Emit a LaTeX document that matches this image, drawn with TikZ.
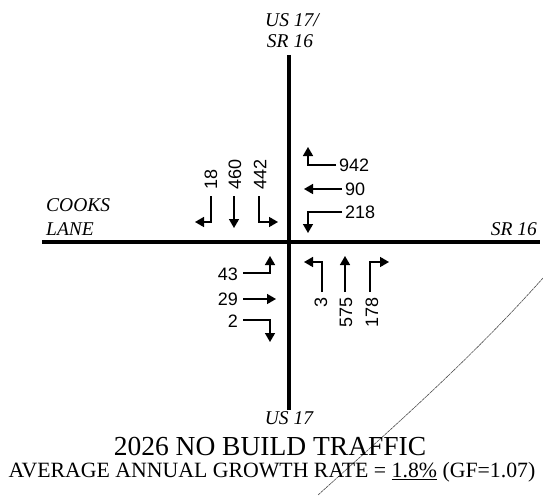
\documentclass[tikz,border=0pt]{standalone}
\usepackage{fontspec}
\setmainfont{Liberation Serif}
\newfontfamily\numfont{Liberation Sans}
\usetikzlibrary{arrows.meta}
\begin{document}
\begin{tikzpicture}[x=1pt,y=-1pt,
  road/.style={line width=3.4pt},
  mv/.style={line width=1.5pt,-{Triangle[width=10pt,length=9pt]}},
  num/.style={font=\numfont\fontsize{18}{20}\selectfont,inner sep=0pt},
  rlab/.style={font=\itshape\fontsize{19.5}{22}\selectfont,inner sep=0pt},
  artifact/.style={line width=0.6pt,draw=black!70,dash pattern=on 3pt off 0.6pt}]
\useasboundingbox (0,0) rectangle (543,495);
% roads
\coordinate (nN) at (289,55);
\coordinate (nS) at (289,410);
\coordinate (nW) at (42,242);
\coordinate (nE) at (540,242);
\draw[road] (nN) -- (nS);
\draw[road] (nW) -- (nE);
% road labels
\node[rlab] (usn1) at (292,20) {US 17/};
\node[rlab] (usn2) at (290,41) {SR 16};
\node[rlab,anchor=west] (cl1) at (46,205) {COOKS};
\node[rlab,anchor=west] (cl2) at (46,229) {LANE};
\node[rlab,anchor=east] (sre) at (537,229) {SR 16};
\node[rlab] (uss) at (289,418) {US 17};
% southbound
\node[num,rotate=90,anchor=west] (s18) at (211,190) {18};
\node[num,rotate=90,anchor=west] (s460) at (235,190) {460};
\node[num,rotate=90,anchor=west] (s442) at (260,190) {442};
\draw[mv] (211,196) -- (211,222) -- (195,222);
\draw[mv] (234,196) -- (234,228);
\draw[mv] (259,196) -- (259,222) -- (278,222);
% westbound
\node[num,anchor=west] (w942) at (339,165) {942};
\node[num,anchor=west] (w90) at (345,189) {90};
\node[num,anchor=west] (w218) at (345,212) {218};
\draw[mv] (336,165) -- (308,165) -- (308,147);
\draw[mv] (342,189) -- (304,189);
\draw[mv] (342,212) -- (308,212) -- (308,233);
% eastbound
\node[num,anchor=east] (e43) at (238,274) {43};
\node[num,anchor=east] (e29) at (238,299) {29};
\node[num,anchor=east] (e2) at (238,321) {2};
\draw[mv] (243,273) -- (270,273) -- (270,256);
\draw[mv] (243,299) -- (276,299);
\draw[mv] (243,320) -- (270,320) -- (270,342);
% northbound
\node[num,rotate=90,anchor=east] (n3) at (321,297) {3};
\node[num,rotate=90,anchor=east] (n575) at (346,297) {575};
\node[num,rotate=90,anchor=east] (n178) at (372,297) {178};
\draw[mv] (322,292) -- (322,262) -- (304,262);
\draw[mv] (345,292) -- (345,256);
\draw[mv] (370,292) -- (370,262) -- (389,262);
% scan artifact line
\draw[artifact] (543,278) .. controls (470,360) and (390,430) .. (318,495);
% titles
\node[font=\fontsize{27.5}{30}\selectfont,inner sep=0pt,anchor=base] (title) at (270,455) {2026 NO BUILD TRAFFIC};
\node[font=\fontsize{21.8}{24}\selectfont,inner sep=0pt,anchor=base] (sub) at (272,477) {AVERAGE ANNUAL GROWTH RATE = \underline{1.8\%} (GF=1.07)};
\end{tikzpicture}
\end{document}
